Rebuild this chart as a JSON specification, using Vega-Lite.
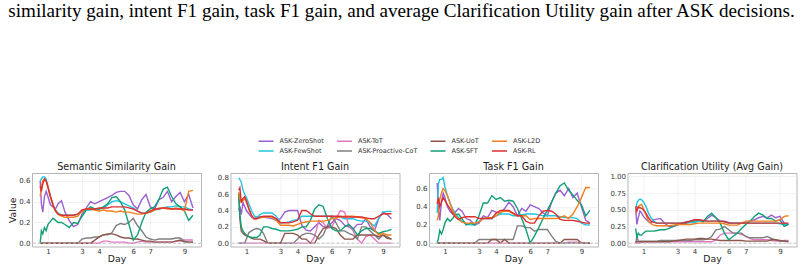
{
  "$schema": "https://vega.github.io/schema/vega-lite/v6.json",
  "padding": {"left": 8, "top": 1, "right": 0, "bottom": 0},
  "title": {
    "text": "similarity gain, intent F1 gain, task F1 gain, and average Clarification Utility gain after ASK decisions.",
    "anchor": "start",
    "frame": "bounds",
    "font": "Liberation Serif",
    "fontSize": 19.1,
    "fontWeight": "normal",
    "color": "#000000",
    "offset": 114
  },
  "datasets": {
    "semantic": [
      {"d":0.55,"ZS":0.60,"FS":0.60,"ToT":0,"PC":0,"UoT":0,"SFT":0.00,"L2D":0.45,"RL":0.55},
      {"d":0.62,"ZS":0.38,"FS":0.62,"ToT":0,"PC":0,"UoT":0,"SFT":0.12,"L2D":0.55,"RL":0.50},
      {"d":0.7,"ZS":0.30,"FS":0.64,"ToT":0,"PC":0,"UoT":0,"SFT":0.09,"L2D":0.60,"RL":0.57},
      {"d":0.8,"ZS":0.45,"FS":0.64,"ToT":0,"PC":0,"UoT":0,"SFT":0.15,"L2D":0.62,"RL":0.62},
      {"d":0.9,"ZS":0.50,"FS":0.62,"ToT":0,"PC":0,"UoT":0,"SFT":0.12,"L2D":0.60,"RL":0.60},
      {"d":1.0,"ZS":0.45,"FS":0.55,"ToT":0,"PC":0,"UoT":0,"SFT":0.18,"L2D":0.55,"RL":0.54},
      {"d":1.15,"ZS":0.37,"FS":0.45,"ToT":0,"PC":0,"UoT":0,"SFT":0.21,"L2D":0.45,"RL":0.45},
      {"d":1.3,"ZS":0.35,"FS":0.37,"ToT":0,"PC":0,"UoT":0,"SFT":0.24,"L2D":0.36,"RL":0.37},
      {"d":1.45,"ZS":0.33,"FS":0.32,"ToT":0,"PC":0,"UoT":0,"SFT":0.22,"L2D":0.31,"RL":0.31},
      {"d":1.6,"ZS":0.38,"FS":0.29,"ToT":0,"PC":0,"UoT":0,"SFT":0.20,"L2D":0.28,"RL":0.28},
      {"d":1.8,"ZS":0.41,"FS":0.27,"ToT":0,"PC":0,"UoT":0,"SFT":0.20,"L2D":0.26,"RL":0.27},
      {"d":2.0,"ZS":0.30,"FS":0.27,"ToT":0,"PC":0,"UoT":0,"SFT":0.18,"L2D":0.25,"RL":0.27},
      {"d":2.25,"ZS":0.22,"FS":0.27,"ToT":0,"PC":0,"UoT":0,"SFT":0.15,"L2D":0.25,"RL":0.27},
      {"d":2.5,"ZS":0.16,"FS":0.27,"ToT":0,"PC":0,"UoT":0,"SFT":0.20,"L2D":0.25,"RL":0.27},
      {"d":2.75,"ZS":0.18,"FS":0.28,"ToT":0,"PC":0,"UoT":0,"SFT":0.19,"L2D":0.26,"RL":0.28},
      {"d":3.0,"ZS":0.28,"FS":0.31,"ToT":0,"PC":0.04,"UoT":0,"SFT":0.26,"L2D":0.31,"RL":0.32},
      {"d":3.25,"ZS":0.34,"FS":0.32,"ToT":0,"PC":0.05,"UoT":0,"SFT":0.32,"L2D":0.33,"RL":0.33},
      {"d":3.5,"ZS":0.40,"FS":0.32,"ToT":0,"PC":0.05,"UoT":0,"SFT":0.35,"L2D":0.33,"RL":0.33},
      {"d":3.75,"ZS":0.38,"FS":0.33,"ToT":0,"PC":0.06,"UoT":0.03,"SFT":0.33,"L2D":0.32,"RL":0.33},
      {"d":4.0,"ZS":0.40,"FS":0.33,"ToT":0,"PC":0.06,"UoT":0.06,"SFT":0.33,"L2D":0.31,"RL":0.34},
      {"d":4.25,"ZS":0.42,"FS":0.34,"ToT":0.02,"PC":0.08,"UoT":0.08,"SFT":0.35,"L2D":0.32,"RL":0.34},
      {"d":4.5,"ZS":0.44,"FS":0.37,"ToT":0.02,"PC":0.08,"UoT":0.09,"SFT":0.38,"L2D":0.31,"RL":0.34},
      {"d":4.75,"ZS":0.46,"FS":0.40,"ToT":0.01,"PC":0.10,"UoT":0.09,"SFT":0.44,"L2D":0.31,"RL":0.35},
      {"d":5.0,"ZS":0.49,"FS":0.41,"ToT":0.01,"PC":0.17,"UoT":0.08,"SFT":0.45,"L2D":0.30,"RL":0.35},
      {"d":5.25,"ZS":0.50,"FS":0.40,"ToT":0.01,"PC":0.19,"UoT":0.06,"SFT":0.40,"L2D":0.31,"RL":0.35},
      {"d":5.5,"ZS":0.50,"FS":0.38,"ToT":0.01,"PC":0.18,"UoT":0.05,"SFT":0.32,"L2D":0.30,"RL":0.35},
      {"d":5.75,"ZS":0.46,"FS":0.36,"ToT":0,"PC":0.20,"UoT":0.05,"SFT":0.18,"L2D":0.30,"RL":0.34},
      {"d":6.0,"ZS":0.37,"FS":0.34,"ToT":0,"PC":0.24,"UoT":0.04,"SFT":0.03,"L2D":0.29,"RL":0.33},
      {"d":6.25,"ZS":0.33,"FS":0.31,"ToT":0.01,"PC":0.17,"UoT":0.04,"SFT":0.08,"L2D":0.28,"RL":0.31},
      {"d":6.5,"ZS":0.42,"FS":0.29,"ToT":0.02,"PC":0.12,"UoT":0.03,"SFT":0.20,"L2D":0.28,"RL":0.29},
      {"d":6.75,"ZS":0.47,"FS":0.29,"ToT":0.01,"PC":0.06,"UoT":0.02,"SFT":0.30,"L2D":0.29,"RL":0.29},
      {"d":7.0,"ZS":0.35,"FS":0.30,"ToT":0.01,"PC":0.04,"UoT":0.02,"SFT":0.33,"L2D":0.30,"RL":0.31},
      {"d":7.25,"ZS":0.33,"FS":0.32,"ToT":0.01,"PC":0.03,"UoT":0.01,"SFT":0.35,"L2D":0.32,"RL":0.33},
      {"d":7.5,"ZS":0.42,"FS":0.33,"ToT":0.01,"PC":0.04,"UoT":0.01,"SFT":0.42,"L2D":0.34,"RL":0.33},
      {"d":7.75,"ZS":0.44,"FS":0.34,"ToT":0.01,"PC":0.04,"UoT":0.01,"SFT":0.52,"L2D":0.34,"RL":0.34},
      {"d":8.0,"ZS":0.50,"FS":0.35,"ToT":0.01,"PC":0.04,"UoT":0.01,"SFT":0.54,"L2D":0.33,"RL":0.34},
      {"d":8.25,"ZS":0.40,"FS":0.35,"ToT":0.01,"PC":0.04,"UoT":0.01,"SFT":0.45,"L2D":0.33,"RL":0.33},
      {"d":8.5,"ZS":0.45,"FS":0.36,"ToT":0.02,"PC":0.05,"UoT":0.02,"SFT":0.38,"L2D":0.34,"RL":0.33},
      {"d":8.75,"ZS":0.49,"FS":0.35,"ToT":0.02,"PC":0.05,"UoT":0.03,"SFT":0.35,"L2D":0.33,"RL":0.33},
      {"d":9.0,"ZS":0.40,"FS":0.35,"ToT":0.03,"PC":0.02,"UoT":0.01,"SFT":0.31,"L2D":0.31,"RL":0.33},
      {"d":9.25,"ZS":0.47,"FS":0.33,"ToT":0.03,"PC":0.01,"UoT":0.01,"SFT":0.22,"L2D":0.50,"RL":0.32},
      {"d":9.5,"ZS":0.34,"FS":0.32,"ToT":0.03,"PC":0.01,"UoT":0.01,"SFT":0.27,"L2D":0.51,"RL":0.32}
    ],
    "intent": [
      {"d":0.55,"ZS":0.40,"FS":0.80,"ToT":0,"PC":0,"UoT":0.62,"SFT":0.60,"L2D":0.62,"RL":0.65},
      {"d":0.62,"ZS":0.45,"FS":0.78,"ToT":0,"PC":0,"UoT":0.30,"SFT":0.35,"L2D":0.55,"RL":0.68},
      {"d":0.7,"ZS":0.35,"FS":0.75,"ToT":0,"PC":0,"UoT":0.15,"SFT":0.20,"L2D":0.50,"RL":0.50},
      {"d":0.8,"ZS":0.50,"FS":0.65,"ToT":0,"PC":0,"UoT":0.12,"SFT":0.15,"L2D":0.52,"RL":0.55},
      {"d":0.9,"ZS":0.45,"FS":0.60,"ToT":0,"PC":0,"UoT":0.10,"SFT":0.12,"L2D":0.55,"RL":0.57},
      {"d":1.0,"ZS":0.40,"FS":0.56,"ToT":0,"PC":0.05,"UoT":0.09,"SFT":0.10,"L2D":0.50,"RL":0.52},
      {"d":1.15,"ZS":0.36,"FS":0.48,"ToT":0,"PC":0.13,"UoT":0.08,"SFT":0.08,"L2D":0.42,"RL":0.42},
      {"d":1.3,"ZS":0.32,"FS":0.40,"ToT":0,"PC":0.15,"UoT":0.06,"SFT":0.07,"L2D":0.34,"RL":0.34},
      {"d":1.45,"ZS":0.30,"FS":0.34,"ToT":0,"PC":0.17,"UoT":0.05,"SFT":0.07,"L2D":0.30,"RL":0.30},
      {"d":1.6,"ZS":0.32,"FS":0.31,"ToT":0,"PC":0.18,"UoT":0.05,"SFT":0.07,"L2D":0.30,"RL":0.30},
      {"d":1.8,"ZS":0.32,"FS":0.35,"ToT":0,"PC":0.17,"UoT":0.05,"SFT":0.10,"L2D":0.31,"RL":0.32},
      {"d":2.0,"ZS":0.32,"FS":0.37,"ToT":0,"PC":0.12,"UoT":0.03,"SFT":0.20,"L2D":0.32,"RL":0.33},
      {"d":2.25,"ZS":0.31,"FS":0.37,"ToT":0,"PC":0,"UoT":0,"SFT":0.20,"L2D":0.32,"RL":0.33},
      {"d":2.5,"ZS":0.30,"FS":0.37,"ToT":0,"PC":0,"UoT":0,"SFT":0.18,"L2D":0.32,"RL":0.33},
      {"d":2.75,"ZS":0.28,"FS":0.33,"ToT":0,"PC":0,"UoT":0,"SFT":0.17,"L2D":0.28,"RL":0.30},
      {"d":3.0,"ZS":0.30,"FS":0.25,"ToT":0,"PC":0,"UoT":0,"SFT":0.15,"L2D":0.22,"RL":0.25},
      {"d":3.25,"ZS":0.38,"FS":0.25,"ToT":0,"PC":0,"UoT":0.12,"SFT":0.15,"L2D":0.22,"RL":0.25},
      {"d":3.5,"ZS":0.40,"FS":0.26,"ToT":0,"PC":0,"UoT":0.12,"SFT":0.15,"L2D":0.22,"RL":0.25},
      {"d":3.75,"ZS":0.40,"FS":0.28,"ToT":0,"PC":0,"UoT":0.12,"SFT":0.16,"L2D":0.21,"RL":0.26},
      {"d":4.0,"ZS":0.40,"FS":0.29,"ToT":0,"PC":0.05,"UoT":0.10,"SFT":0.17,"L2D":0.23,"RL":0.28},
      {"d":4.25,"ZS":0.22,"FS":0.33,"ToT":0,"PC":0.10,"UoT":0.05,"SFT":0.20,"L2D":0.25,"RL":0.40},
      {"d":4.5,"ZS":0.16,"FS":0.33,"ToT":0,"PC":0.12,"UoT":0.05,"SFT":0.20,"L2D":0.26,"RL":0.40},
      {"d":4.75,"ZS":0.15,"FS":0.33,"ToT":0,"PC":0.12,"UoT":0,"SFT":0.28,"L2D":0.27,"RL":0.36},
      {"d":5.0,"ZS":0.20,"FS":0.33,"ToT":0.08,"PC":0.10,"UoT":0,"SFT":0.42,"L2D":0.27,"RL":0.33},
      {"d":5.25,"ZS":0.25,"FS":0.33,"ToT":0.28,"PC":0.05,"UoT":0.10,"SFT":0.47,"L2D":0.27,"RL":0.33},
      {"d":5.5,"ZS":0.20,"FS":0.33,"ToT":0.25,"PC":0.10,"UoT":0.18,"SFT":0.45,"L2D":0.27,"RL":0.33},
      {"d":5.75,"ZS":0.20,"FS":0.33,"ToT":0.18,"PC":0.22,"UoT":0.20,"SFT":0.30,"L2D":0.28,"RL":0.33},
      {"d":6.0,"ZS":0.25,"FS":0.33,"ToT":0.20,"PC":0.33,"UoT":0.20,"SFT":0.18,"L2D":0.30,"RL":0.33},
      {"d":6.25,"ZS":0.30,"FS":0.32,"ToT":0.30,"PC":0.25,"UoT":0.18,"SFT":0.15,"L2D":0.31,"RL":0.33},
      {"d":6.5,"ZS":0.28,"FS":0.32,"ToT":0.40,"PC":0.15,"UoT":0.10,"SFT":0.15,"L2D":0.32,"RL":0.33},
      {"d":6.75,"ZS":0.22,"FS":0.30,"ToT":0.38,"PC":0.15,"UoT":0.05,"SFT":0.20,"L2D":0.33,"RL":0.32},
      {"d":7.0,"ZS":0.20,"FS":0.30,"ToT":0.22,"PC":0.12,"UoT":0.05,"SFT":0.23,"L2D":0.33,"RL":0.32},
      {"d":7.25,"ZS":0.17,"FS":0.30,"ToT":0.15,"PC":0.10,"UoT":0.05,"SFT":0.18,"L2D":0.33,"RL":0.32},
      {"d":7.5,"ZS":0.23,"FS":0.28,"ToT":0.05,"PC":0.05,"UoT":0.10,"SFT":0.10,"L2D":0.32,"RL":0.32},
      {"d":7.75,"ZS":0.23,"FS":0.27,"ToT":0,"PC":0.20,"UoT":0.10,"SFT":0.15,"L2D":0.31,"RL":0.32},
      {"d":8.0,"ZS":0.30,"FS":0.27,"ToT":0.08,"PC":0.20,"UoT":0.10,"SFT":0.18,"L2D":0.30,"RL":0.31},
      {"d":8.25,"ZS":0.20,"FS":0.25,"ToT":0.10,"PC":0.15,"UoT":0.10,"SFT":0.18,"L2D":0.25,"RL":0.30},
      {"d":8.5,"ZS":0.15,"FS":0.21,"ToT":0.05,"PC":0.10,"UoT":0.10,"SFT":0.15,"L2D":0.16,"RL":0.30},
      {"d":8.75,"ZS":0.30,"FS":0.30,"ToT":0,"PC":0.05,"UoT":0.08,"SFT":0.12,"L2D":0.10,"RL":0.33},
      {"d":9.0,"ZS":0.38,"FS":0.38,"ToT":0,"PC":0.10,"UoT":0.10,"SFT":0.14,"L2D":0.12,"RL":0.36},
      {"d":9.25,"ZS":0.35,"FS":0.39,"ToT":0,"PC":0.08,"UoT":0.06,"SFT":0.15,"L2D":0.10,"RL":0.36},
      {"d":9.5,"ZS":0.30,"FS":0.39,"ToT":0,"PC":0.05,"UoT":0.05,"SFT":0.17,"L2D":0.10,"RL":0.36}
    ],
    "task": [
      {"d":0.55,"ZS":0.66,"FS":0.33,"ToT":0,"PC":0,"UoT":0,"SFT":0.00,"L2D":0.25,"RL":0.43},
      {"d":0.62,"ZS":0.40,"FS":0.65,"ToT":0,"PC":0,"UoT":0,"SFT":0.05,"L2D":0.30,"RL":0.50},
      {"d":0.7,"ZS":0.25,"FS":0.70,"ToT":0,"PC":0,"UoT":0,"SFT":0.14,"L2D":0.48,"RL":0.40},
      {"d":0.8,"ZS":0.45,"FS":0.70,"ToT":0,"PC":0,"UoT":0,"SFT":0.10,"L2D":0.55,"RL":0.45},
      {"d":0.9,"ZS":0.55,"FS":0.72,"ToT":0,"PC":0,"UoT":0,"SFT":0.15,"L2D":0.60,"RL":0.50},
      {"d":1.0,"ZS":0.50,"FS":0.62,"ToT":0,"PC":0,"UoT":0,"SFT":0.22,"L2D":0.58,"RL":0.47},
      {"d":1.15,"ZS":0.40,"FS":0.52,"ToT":0,"PC":0,"UoT":0,"SFT":0.27,"L2D":0.52,"RL":0.42},
      {"d":1.3,"ZS":0.35,"FS":0.44,"ToT":0,"PC":0,"UoT":0,"SFT":0.24,"L2D":0.44,"RL":0.38},
      {"d":1.45,"ZS":0.32,"FS":0.38,"ToT":0,"PC":0,"UoT":0,"SFT":0.27,"L2D":0.36,"RL":0.33},
      {"d":1.6,"ZS":0.34,"FS":0.33,"ToT":0,"PC":0,"UoT":0,"SFT":0.31,"L2D":0.31,"RL":0.29},
      {"d":1.8,"ZS":0.38,"FS":0.28,"ToT":0,"PC":0,"UoT":0,"SFT":0.32,"L2D":0.26,"RL":0.26},
      {"d":2.0,"ZS":0.35,"FS":0.24,"ToT":0,"PC":0,"UoT":0,"SFT":0.27,"L2D":0.23,"RL":0.28},
      {"d":2.25,"ZS":0.27,"FS":0.21,"ToT":0,"PC":0,"UoT":0,"SFT":0.20,"L2D":0.22,"RL":0.29},
      {"d":2.5,"ZS":0.25,"FS":0.20,"ToT":0,"PC":0,"UoT":0,"SFT":0.22,"L2D":0.22,"RL":0.29},
      {"d":2.75,"ZS":0.20,"FS":0.20,"ToT":0,"PC":0,"UoT":0,"SFT":0.20,"L2D":0.22,"RL":0.29},
      {"d":3.0,"ZS":0.22,"FS":0.24,"ToT":0,"PC":0.04,"UoT":0,"SFT":0.30,"L2D":0.23,"RL":0.27},
      {"d":3.25,"ZS":0.30,"FS":0.27,"ToT":0,"PC":0.04,"UoT":0,"SFT":0.44,"L2D":0.27,"RL":0.27},
      {"d":3.5,"ZS":0.28,"FS":0.27,"ToT":0,"PC":0.04,"UoT":0,"SFT":0.44,"L2D":0.28,"RL":0.27},
      {"d":3.75,"ZS":0.36,"FS":0.27,"ToT":0,"PC":0.04,"UoT":0.04,"SFT":0.52,"L2D":0.28,"RL":0.27},
      {"d":4.0,"ZS":0.34,"FS":0.30,"ToT":0,"PC":0.04,"UoT":0.04,"SFT":0.48,"L2D":0.30,"RL":0.33},
      {"d":4.25,"ZS":0.33,"FS":0.32,"ToT":0,"PC":0.04,"UoT":0,"SFT":0.50,"L2D":0.34,"RL":0.36},
      {"d":4.5,"ZS":0.38,"FS":0.32,"ToT":0,"PC":0.04,"UoT":0.04,"SFT":0.46,"L2D":0.35,"RL":0.36},
      {"d":4.75,"ZS":0.45,"FS":0.32,"ToT":0,"PC":0.04,"UoT":0,"SFT":0.47,"L2D":0.35,"RL":0.36},
      {"d":5.0,"ZS":0.40,"FS":0.30,"ToT":0,"PC":0.04,"UoT":0,"SFT":0.46,"L2D":0.32,"RL":0.33},
      {"d":5.25,"ZS":0.30,"FS":0.30,"ToT":0,"PC":0.19,"UoT":0,"SFT":0.38,"L2D":0.30,"RL":0.30},
      {"d":5.5,"ZS":0.38,"FS":0.31,"ToT":0,"PC":0.19,"UoT":0,"SFT":0.27,"L2D":0.30,"RL":0.30},
      {"d":5.75,"ZS":0.35,"FS":0.32,"ToT":0,"PC":0.17,"UoT":0,"SFT":0.15,"L2D":0.30,"RL":0.24},
      {"d":6.0,"ZS":0.42,"FS":0.32,"ToT":0,"PC":0.17,"UoT":0,"SFT":0.00,"L2D":0.26,"RL":0.22},
      {"d":6.25,"ZS":0.40,"FS":0.32,"ToT":0,"PC":0.13,"UoT":0,"SFT":0.08,"L2D":0.27,"RL":0.22},
      {"d":6.5,"ZS":0.38,"FS":0.31,"ToT":0,"PC":0.15,"UoT":0,"SFT":0.17,"L2D":0.27,"RL":0.30},
      {"d":6.75,"ZS":0.33,"FS":0.30,"ToT":0,"PC":0.15,"UoT":0,"SFT":0.27,"L2D":0.27,"RL":0.35},
      {"d":7.0,"ZS":0.30,"FS":0.30,"ToT":0,"PC":0.15,"UoT":0,"SFT":0.36,"L2D":0.27,"RL":0.36},
      {"d":7.25,"ZS":0.45,"FS":0.30,"ToT":0,"PC":0.08,"UoT":0,"SFT":0.45,"L2D":0.27,"RL":0.35},
      {"d":7.5,"ZS":0.55,"FS":0.30,"ToT":0,"PC":0.02,"UoT":0,"SFT":0.55,"L2D":0.27,"RL":0.32},
      {"d":7.75,"ZS":0.58,"FS":0.29,"ToT":0,"PC":0,"UoT":0,"SFT":0.63,"L2D":0.28,"RL":0.26},
      {"d":8.0,"ZS":0.52,"FS":0.28,"ToT":0,"PC":0,"UoT":0.04,"SFT":0.66,"L2D":0.30,"RL":0.25},
      {"d":8.25,"ZS":0.60,"FS":0.28,"ToT":0.01,"PC":0,"UoT":0.04,"SFT":0.58,"L2D":0.27,"RL":0.25},
      {"d":8.5,"ZS":0.50,"FS":0.28,"ToT":0.01,"PC":0,"UoT":0.04,"SFT":0.53,"L2D":0.32,"RL":0.25},
      {"d":8.75,"ZS":0.55,"FS":0.27,"ToT":0.01,"PC":0,"UoT":0.04,"SFT":0.47,"L2D":0.40,"RL":0.24},
      {"d":9.0,"ZS":0.40,"FS":0.22,"ToT":0,"PC":0,"UoT":0,"SFT":0.42,"L2D":0.50,"RL":0.23},
      {"d":9.25,"ZS":0.25,"FS":0.20,"ToT":0,"PC":0,"UoT":0,"SFT":0.30,"L2D":0.61,"RL":0.22},
      {"d":9.5,"ZS":0.22,"FS":0.20,"ToT":0,"PC":0,"UoT":0,"SFT":0.36,"L2D":0.61,"RL":0.22}
    ],
    "clarification": [
      {"d":0.55,"ZS":0.50,"FS":0.50,"ToT":0.00,"PC":0.00,"UoT":0.02,"SFT":0.22,"L2D":0.45,"RL":0.55},
      {"d":0.62,"ZS":0.28,"FS":0.60,"ToT":0.00,"PC":0.10,"UoT":0.02,"SFT":0.08,"L2D":0.52,"RL":0.48},
      {"d":0.7,"ZS":0.38,"FS":0.64,"ToT":0.00,"PC":0.03,"UoT":0.02,"SFT":0.15,"L2D":0.55,"RL":0.54},
      {"d":0.8,"ZS":0.48,"FS":0.66,"ToT":0.01,"PC":0.03,"UoT":0.02,"SFT":0.12,"L2D":0.57,"RL":0.53},
      {"d":0.9,"ZS":0.45,"FS":0.65,"ToT":0.01,"PC":0.03,"UoT":0.02,"SFT":0.12,"L2D":0.58,"RL":0.52},
      {"d":1.0,"ZS":0.40,"FS":0.62,"ToT":0.02,"PC":0.03,"UoT":0.02,"SFT":0.15,"L2D":0.52,"RL":0.50},
      {"d":1.15,"ZS":0.36,"FS":0.55,"ToT":0.02,"PC":0.03,"UoT":0.02,"SFT":0.18,"L2D":0.42,"RL":0.45},
      {"d":1.3,"ZS":0.32,"FS":0.45,"ToT":0.02,"PC":0.03,"UoT":0.02,"SFT":0.18,"L2D":0.33,"RL":0.38},
      {"d":1.45,"ZS":0.30,"FS":0.38,"ToT":0.02,"PC":0.03,"UoT":0.02,"SFT":0.18,"L2D":0.29,"RL":0.33},
      {"d":1.6,"ZS":0.35,"FS":0.33,"ToT":0.02,"PC":0.03,"UoT":0.02,"SFT":0.18,"L2D":0.27,"RL":0.31},
      {"d":1.8,"ZS":0.36,"FS":0.30,"ToT":0.02,"PC":0.03,"UoT":0.02,"SFT":0.19,"L2D":0.26,"RL":0.30},
      {"d":2.0,"ZS":0.37,"FS":0.30,"ToT":0.02,"PC":0.04,"UoT":0.02,"SFT":0.20,"L2D":0.26,"RL":0.30},
      {"d":2.25,"ZS":0.30,"FS":0.30,"ToT":0.02,"PC":0.04,"UoT":0.02,"SFT":0.20,"L2D":0.26,"RL":0.30},
      {"d":2.5,"ZS":0.25,"FS":0.30,"ToT":0.02,"PC":0.04,"UoT":0.02,"SFT":0.22,"L2D":0.26,"RL":0.30},
      {"d":2.75,"ZS":0.25,"FS":0.30,"ToT":0.02,"PC":0.04,"UoT":0.03,"SFT":0.25,"L2D":0.27,"RL":0.30},
      {"d":3.0,"ZS":0.27,"FS":0.30,"ToT":0.02,"PC":0.04,"UoT":0.04,"SFT":0.28,"L2D":0.28,"RL":0.30},
      {"d":3.25,"ZS":0.30,"FS":0.30,"ToT":0.02,"PC":0.04,"UoT":0.05,"SFT":0.30,"L2D":0.28,"RL":0.30},
      {"d":3.5,"ZS":0.32,"FS":0.30,"ToT":0.02,"PC":0.04,"UoT":0.06,"SFT":0.30,"L2D":0.28,"RL":0.31},
      {"d":3.75,"ZS":0.33,"FS":0.31,"ToT":0.02,"PC":0.04,"UoT":0.06,"SFT":0.33,"L2D":0.28,"RL":0.33},
      {"d":4.0,"ZS":0.35,"FS":0.31,"ToT":0.02,"PC":0.05,"UoT":0.06,"SFT":0.33,"L2D":0.29,"RL":0.35},
      {"d":4.25,"ZS":0.35,"FS":0.33,"ToT":0.02,"PC":0.05,"UoT":0.07,"SFT":0.35,"L2D":0.30,"RL":0.35},
      {"d":4.5,"ZS":0.33,"FS":0.33,"ToT":0.02,"PC":0.05,"UoT":0.07,"SFT":0.32,"L2D":0.30,"RL":0.34},
      {"d":4.75,"ZS":0.37,"FS":0.33,"ToT":0.02,"PC":0.06,"UoT":0.06,"SFT":0.40,"L2D":0.30,"RL":0.33},
      {"d":5.0,"ZS":0.42,"FS":0.33,"ToT":0.02,"PC":0.10,"UoT":0.06,"SFT":0.45,"L2D":0.30,"RL":0.33},
      {"d":5.25,"ZS":0.38,"FS":0.33,"ToT":0.05,"PC":0.20,"UoT":0.05,"SFT":0.38,"L2D":0.30,"RL":0.33},
      {"d":5.5,"ZS":0.33,"FS":0.33,"ToT":0.12,"PC":0.21,"UoT":0.04,"SFT":0.30,"L2D":0.30,"RL":0.33},
      {"d":5.75,"ZS":0.33,"FS":0.32,"ToT":0.15,"PC":0.25,"UoT":0.04,"SFT":0.15,"L2D":0.29,"RL":0.32},
      {"d":6.0,"ZS":0.31,"FS":0.30,"ToT":0.15,"PC":0.20,"UoT":0.04,"SFT":0.05,"L2D":0.27,"RL":0.30},
      {"d":6.25,"ZS":0.30,"FS":0.30,"ToT":0.15,"PC":0.15,"UoT":0.04,"SFT":0.10,"L2D":0.27,"RL":0.30},
      {"d":6.5,"ZS":0.30,"FS":0.30,"ToT":0.15,"PC":0.15,"UoT":0.04,"SFT":0.15,"L2D":0.27,"RL":0.30},
      {"d":6.75,"ZS":0.30,"FS":0.30,"ToT":0.13,"PC":0.15,"UoT":0.04,"SFT":0.22,"L2D":0.30,"RL":0.30},
      {"d":7.0,"ZS":0.30,"FS":0.30,"ToT":0.10,"PC":0.10,"UoT":0.03,"SFT":0.28,"L2D":0.33,"RL":0.30},
      {"d":7.25,"ZS":0.33,"FS":0.30,"ToT":0.07,"PC":0.08,"UoT":0.03,"SFT":0.33,"L2D":0.33,"RL":0.30},
      {"d":7.5,"ZS":0.35,"FS":0.30,"ToT":0.05,"PC":0.08,"UoT":0.03,"SFT":0.40,"L2D":0.33,"RL":0.30},
      {"d":7.75,"ZS":0.38,"FS":0.30,"ToT":0.05,"PC":0.08,"UoT":0.03,"SFT":0.45,"L2D":0.33,"RL":0.30},
      {"d":8.0,"ZS":0.40,"FS":0.30,"ToT":0.05,"PC":0.08,"UoT":0.03,"SFT":0.42,"L2D":0.33,"RL":0.30},
      {"d":8.25,"ZS":0.38,"FS":0.30,"ToT":0.05,"PC":0.10,"UoT":0.03,"SFT":0.37,"L2D":0.33,"RL":0.30},
      {"d":8.5,"ZS":0.42,"FS":0.30,"ToT":0.04,"PC":0.07,"UoT":0.05,"SFT":0.37,"L2D":0.33,"RL":0.30},
      {"d":8.75,"ZS":0.38,"FS":0.30,"ToT":0.03,"PC":0.05,"UoT":0.05,"SFT":0.33,"L2D":0.33,"RL":0.30},
      {"d":9.0,"ZS":0.40,"FS":0.29,"ToT":0.03,"PC":0.03,"UoT":0.04,"SFT":0.35,"L2D":0.35,"RL":0.30},
      {"d":9.25,"ZS":0.30,"FS":0.28,"ToT":0.04,"PC":0.03,"UoT":0.03,"SFT":0.25,"L2D":0.40,"RL":0.30},
      {"d":9.5,"ZS":0.28,"FS":0.28,"ToT":0.04,"PC":0.03,"UoT":0.02,"SFT":0.28,"L2D":0.41,"RL":0.30}
    ]
  },
  "hconcat": [
    {
      "width": 169, "height": 73.5,
      "title": "Semantic Similarity Gain",
      "layer": [
        {
          "data": {"name": "semantic"},
          "transform": [{"fold": ["ZS", "FS", "ToT", "PC", "UoT", "SFT", "L2D", "RL"], "as": ["s", "v"]}],
          "mark": {"type": "line", "strokeWidth": 1.4},
          "encoding": {
            "x": {"field": "d", "type": "quantitative", "scale": {"domain": [0.07, 9.97], "nice": false, "zero": false}, "axis": {"values": [1, 3, 4, 6, 7, 9], "tickCount": 10, "title": "Day"}},
            "y": {"field": "v", "type": "quantitative", "scale": {"domain": [-0.032, 0.677], "nice": false, "zero": false}, "axis": {"values": [0, 0.2, 0.4, 0.6], "tickCount": 10, "format": ".1f", "title": "Value"}},
            "color": {"field": "s", "type": "nominal",
              "scale": {"domain": ["ZS", "ToT", "UoT", "L2D", "FS", "PC", "SFT", "RL"], "range": ["#9a5fd1", "#e377c2", "#8c564b", "#f07f1c", "#22c3e0", "#7f7f7f", "#109f76", "#dc2f2f"]},
              "legend": {"orient": "none", "legendX": 228, "legendY": -38, "direction": "horizontal", "columns": 4, "title": null, "symbolType": "M-1.5,0H1.5", "symbolSize": 100, "symbolStrokeWidth": 1.5, "labelFont": "DejaVu Sans", "labelFontSize": 6.5, "labelColor": "#333333", "labelOffset": 7.5, "columnPadding": 9.5, "rowPadding": 0, "padding": 0,
                "labelExpr": "datum.label == 'ZS' ? 'ASK-ZeroShot' : datum.label == 'FS' ? 'ASK-FewShot' : datum.label == 'ToT' ? 'ASK-ToT' : datum.label == 'PC' ? 'ASK-Proactive-CoT' : datum.label == 'UoT' ? 'ASK-UoT' : datum.label == 'SFT' ? 'ASK-SFT' : datum.label == 'L2D' ? 'ASK-L2D' : 'ASK-RL'"}}
          }
        },
        {"data": {"values": [{}]}, "mark": {"type": "rule", "color": "#c4c4c4", "strokeDash": [3, 2], "strokeWidth": 1}, "encoding": {"y": {"datum": 0, "type": "quantitative"}}}
      ]
    },
    {
      "width": 169, "height": 73.5,
      "title": "Intent F1 Gain",
      "layer": [
        {
          "data": {"name": "intent"},
          "transform": [{"fold": ["ZS", "FS", "ToT", "PC", "UoT", "SFT", "L2D", "RL"], "as": ["s", "v"]}],
          "mark": {"type": "line", "strokeWidth": 1.4},
          "encoding": {
            "x": {"field": "d", "type": "quantitative", "scale": {"domain": [0.07, 9.97], "nice": false, "zero": false}, "axis": {"values": [1, 3, 4, 6, 7, 9], "tickCount": 10, "title": "Day"}},
            "y": {"field": "v", "type": "quantitative", "scale": {"domain": [-0.041, 0.86], "nice": false, "zero": false}, "axis": {"values": [0, 0.2, 0.4, 0.6, 0.8], "tickCount": 10, "format": ".1f", "title": null}},
            "color": {"field": "s", "type": "nominal",
              "scale": {"domain": ["ZS", "ToT", "UoT", "L2D", "FS", "PC", "SFT", "RL"], "range": ["#9a5fd1", "#e377c2", "#8c564b", "#f07f1c", "#22c3e0", "#7f7f7f", "#109f76", "#dc2f2f"]},
              "legend": {"orient": "none", "legendX": 228, "legendY": -38, "direction": "horizontal", "columns": 4, "title": null, "symbolType": "M-1.5,0H1.5", "symbolSize": 100, "symbolStrokeWidth": 1.5, "labelFont": "DejaVu Sans", "labelFontSize": 6.5, "labelColor": "#333333", "labelOffset": 7.5, "columnPadding": 9.5, "rowPadding": 0, "padding": 0,
                "labelExpr": "datum.label == 'ZS' ? 'ASK-ZeroShot' : datum.label == 'FS' ? 'ASK-FewShot' : datum.label == 'ToT' ? 'ASK-ToT' : datum.label == 'PC' ? 'ASK-Proactive-CoT' : datum.label == 'UoT' ? 'ASK-UoT' : datum.label == 'SFT' ? 'ASK-SFT' : datum.label == 'L2D' ? 'ASK-L2D' : 'ASK-RL'"}}
          }
        },
        {"data": {"values": [{}]}, "mark": {"type": "rule", "color": "#c4c4c4", "strokeDash": [3, 2], "strokeWidth": 1}, "encoding": {"y": {"datum": 0, "type": "quantitative"}}}
      ]
    },
    {
      "width": 169, "height": 73.5,
      "title": "Task F1 Gain",
      "layer": [
        {
          "data": {"name": "task"},
          "transform": [{"fold": ["ZS", "FS", "ToT", "PC", "UoT", "SFT", "L2D", "RL"], "as": ["s", "v"]}],
          "mark": {"type": "line", "strokeWidth": 1.4},
          "encoding": {
            "x": {"field": "d", "type": "quantitative", "scale": {"domain": [0.07, 9.97], "nice": false, "zero": false}, "axis": {"values": [1, 3, 4, 6, 7, 9], "tickCount": 10, "title": "Day"}},
            "y": {"field": "v", "type": "quantitative", "scale": {"domain": [-0.037, 0.77], "nice": false, "zero": false}, "axis": {"values": [0, 0.2, 0.4, 0.6], "tickCount": 10, "format": ".1f", "title": null}},
            "color": {"field": "s", "type": "nominal",
              "scale": {"domain": ["ZS", "ToT", "UoT", "L2D", "FS", "PC", "SFT", "RL"], "range": ["#9a5fd1", "#e377c2", "#8c564b", "#f07f1c", "#22c3e0", "#7f7f7f", "#109f76", "#dc2f2f"]},
              "legend": {"orient": "none", "legendX": 228, "legendY": -38, "direction": "horizontal", "columns": 4, "title": null, "symbolType": "M-1.5,0H1.5", "symbolSize": 100, "symbolStrokeWidth": 1.5, "labelFont": "DejaVu Sans", "labelFontSize": 6.5, "labelColor": "#333333", "labelOffset": 7.5, "columnPadding": 9.5, "rowPadding": 0, "padding": 0,
                "labelExpr": "datum.label == 'ZS' ? 'ASK-ZeroShot' : datum.label == 'FS' ? 'ASK-FewShot' : datum.label == 'ToT' ? 'ASK-ToT' : datum.label == 'PC' ? 'ASK-Proactive-CoT' : datum.label == 'UoT' ? 'ASK-UoT' : datum.label == 'SFT' ? 'ASK-SFT' : datum.label == 'L2D' ? 'ASK-L2D' : 'ASK-RL'"}}
          }
        },
        {"data": {"values": [{}]}, "mark": {"type": "rule", "color": "#c4c4c4", "strokeDash": [3, 2], "strokeWidth": 1}, "encoding": {"y": {"datum": 0, "type": "quantitative"}}}
      ]
    },
    {
      "width": 169, "height": 73.5,
      "title": "Clarification Utility (Avg Gain)",
      "layer": [
        {
          "data": {"name": "clarification"},
          "transform": [{"fold": ["ZS", "FS", "ToT", "PC", "UoT", "SFT", "L2D", "RL"], "as": ["s", "v"]}],
          "mark": {"type": "line", "strokeWidth": 1.4},
          "encoding": {
            "x": {"field": "d", "type": "quantitative", "scale": {"domain": [0.07, 9.97], "nice": false, "zero": false}, "axis": {"values": [1, 3, 4, 6, 7, 9], "tickCount": 10, "title": "Day"}},
            "y": {"field": "v", "type": "quantitative", "scale": {"domain": [-0.05, 1.05], "nice": false, "zero": false}, "axis": {"values": [0, 0.25, 0.5, 0.75, 1.0], "tickCount": 10, "format": ".2f", "title": null}},
            "color": {"field": "s", "type": "nominal",
              "scale": {"domain": ["ZS", "ToT", "UoT", "L2D", "FS", "PC", "SFT", "RL"], "range": ["#9a5fd1", "#e377c2", "#8c564b", "#f07f1c", "#22c3e0", "#7f7f7f", "#109f76", "#dc2f2f"]},
              "legend": {"orient": "none", "legendX": 228, "legendY": -38, "direction": "horizontal", "columns": 4, "title": null, "symbolType": "M-1.5,0H1.5", "symbolSize": 100, "symbolStrokeWidth": 1.5, "labelFont": "DejaVu Sans", "labelFontSize": 6.5, "labelColor": "#333333", "labelOffset": 7.5, "columnPadding": 9.5, "rowPadding": 0, "padding": 0,
                "labelExpr": "datum.label == 'ZS' ? 'ASK-ZeroShot' : datum.label == 'FS' ? 'ASK-FewShot' : datum.label == 'ToT' ? 'ASK-ToT' : datum.label == 'PC' ? 'ASK-Proactive-CoT' : datum.label == 'UoT' ? 'ASK-UoT' : datum.label == 'SFT' ? 'ASK-SFT' : datum.label == 'L2D' ? 'ASK-L2D' : 'ASK-RL'"}}
          }
        },
        {"data": {"values": [{}]}, "mark": {"type": "rule", "color": "#c4c4c4", "strokeDash": [3, 2], "strokeWidth": 1}, "encoding": {"y": {"datum": 0, "type": "quantitative"}}}
      ]
    }
  ],
  "spacing": 29.5,
  "bounds": "flush",
  "resolve": {"scale": {"color": "shared", "x": "independent", "y": "independent"}},
  "config": {
    "font": "DejaVu Sans",
    "view": {"stroke": "#b5b5b5", "strokeWidth": 1},
    "axis": {"domain": false, "ticks": false, "labelOverlap": false, "gridColor": "#ececec", "gridWidth": 0.7, "labelFont": "DejaVu Sans", "labelFontSize": 7, "labelColor": "#333333", "labelPadding": 2, "titleFont": "DejaVu Sans", "titleFontSize": 9.3, "titleFontWeight": "normal", "titleColor": "#1a1a1a", "titlePadding": 1},
    "axisX": {"labelPadding": 1, "titlePadding": 0},
    "title": {"font": "DejaVu Sans", "fontSize": 9.6, "fontWeight": "normal", "color": "#1a1a1a", "anchor": "middle", "offset": 1}
  }
}
